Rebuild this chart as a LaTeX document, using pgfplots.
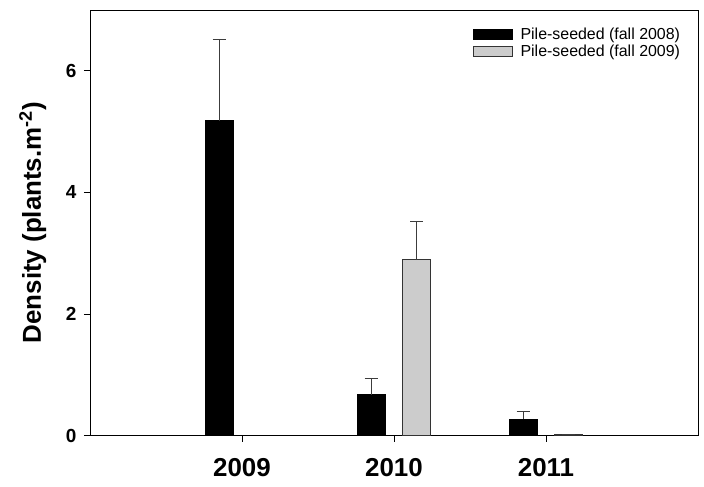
\documentclass[border=0pt]{standalone}
\usepackage{pgfplots}
\pgfplotsset{compat=1.18}
\usepackage{fontspec}
\setmainfont{Liberation Sans}
\definecolor{barg}{RGB}{204,204,204}
\definecolor{errc}{RGB}{60,60,60}
\begin{document}
\begin{tikzpicture}
\path[use as bounding box] (-90bp,-51.5bp) rectangle (614bp,435.5bp);
\begin{axis}[
 at={(0,0)}, anchor=south west,
 scale only axis, width=608bp, height=425.5bp,
 xmin=0, xmax=4, ymin=0, ymax=7,
 xtick={1,2,3}, xticklabels={2009,2010,2011},
 ytick={0,2,4,6},
 xtick pos=bottom, ytick pos=left, tick align=outside,
 major tick length=6bp,
 tick style={line width=0.8pt, black},
 axis line style={line width=0.8pt},
 /pgf/number format/assume math mode=true,
 yticklabel style={font=\fontsize{19}{19}\selectfont\bfseries, xshift=-4bp},
 xticklabel style={font=\fontsize{26}{26}\selectfont\bfseries, yshift=-13bp},
 ylabel={Density (plants.m\textsuperscript{-2})},
 ylabel style={font=\fontsize{26}{26}\selectfont\bfseries, at={(axis description cs:-0.094,0.5)}, anchor=center},
 ybar, bar width=28bp,
 legend style={draw=none, fill=none, at={(0.979,0.967)}, anchor=north east, font=\fontsize{16}{16}\selectfont, cells={anchor=west}},
 legend image code/.code={\draw[#1,/tikz/.cd] (0bp,-5bp) rectangle (39bp,5bp); \path (45bp,0bp);},
]
\addplot[fill=black, draw=black, line width=0.8pt, bar shift=-22.7bp,
  error bars/.cd, y dir=plus, y explicit, error mark=|,
  error bar style={line width=0.8pt, draw=errc},
  error mark options={line width=0.8pt, draw=errc, mark size=6.7bp}]
  coordinates {(1,5.18) +- (0,1.34) (2,0.67) +- (0,0.27) (3,0.27) +- (0,0.13)};
\addlegendentry{Pile-seeded (fall 2008)}
\addplot[fill=barg, draw=black!80, line width=0.8pt, bar shift=22.7bp,
  error bars/.cd, y dir=plus, y explicit, error mark=|,
  error bar style={line width=0.8pt, draw=errc},
  error mark options={line width=0.8pt, draw=errc, mark size=6.7bp}]
  coordinates {(2,2.89) +- (0,0.64) (3,0.02) +- (0,0)};
\addlegendentry{Pile-seeded (fall 2009)}
\end{axis}
\end{tikzpicture}
\end{document}
